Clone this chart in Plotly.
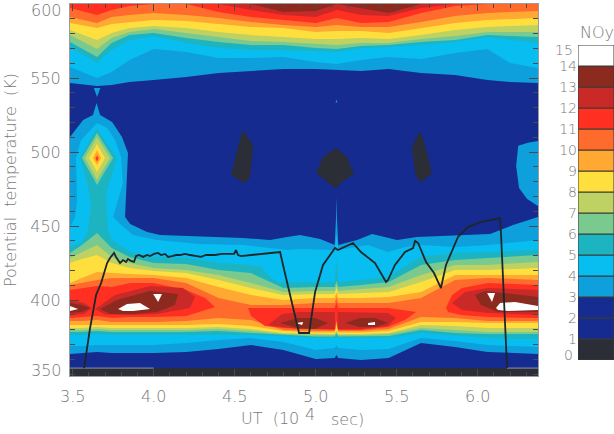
import plotly.graph_objects as go

# NOy contour bands (ppbv) on a UT / potential-temperature section, with flight track.
BAND_COLORS = ["#2b2e36", "#152b8f", "#172c90", "#0ea0dc", "#08bdf0", "#1cb4c0", "#7ac98f",
               "#bdd263", "#ffdf3e", "#ffa932", "#ff6a2d", "#ff3022", "#c92a28", "#8c2a20", "#ffffff"]
TEXT = "#787878"
FONT = "DejaVu Sans Light, DejaVu Sans"

UT_MIN, UT_MAX = 3.483, 6.372
THETA_MIN, THETA_MAX = 348.65, 600.0

# Lower layer: isentrope of each contour, lower and upper edge, at fixed UT stations.
UT_LOW = [3.483, 3.556, 3.65, 3.74, 3.85, 4.0, 4.2, 4.4, 4.6, 4.8, 5.0, 5.117, 5.128, 5.139, 5.28, 5.45, 5.65, 5.86, 6.06, 6.372]
L3_LOW = [363.5, 364.2, 364.9, 364.2, 364.2, 364.2, 364.9, 366.9, 369.6, 366.2, 360.1, 360.8, 362.8, 360.8, 359.5, 360.8, 370.9, 368.2, 364.9, 363.5]
L4_LOW = [368.9, 368.9, 369.6, 369.6, 369.6, 369.6, 370.9, 373, 374.3, 371.6, 366.2, 367.6, 369.6, 367.6, 366.2, 366.9, 374.3, 372.3, 369.6, 368.2]
L5_LOW = [376.4, 376.4, 377, 376.4, 376.4, 376.4, 376.4, 376.4, 376.4, 375.7, 374.3, 374.3, 375.7, 374.3, 374.3, 374.3, 377.7, 375.7, 374.3, 373.6]
L6_LOW = [378.4, 378.4, 379, 378.4, 378.4, 378.4, 378.4, 379, 377.7, 376.4, 375.3, 375.3, 377, 375.3, 375.3, 375.7, 379.7, 377.7, 377, 377]
L7_LOW = [379.7, 379.7, 380.4, 379.7, 379.7, 379.7, 379.7, 380.4, 379, 377, 376.4, 376.4, 378.4, 376.4, 376.4, 377, 381.1, 379.7, 378.4, 378.4]
L8_LOW = [381.1, 381.1, 381.8, 381.1, 381.1, 381.1, 381.1, 381.8, 380.4, 377.7, 377, 377, 379.7, 377, 377, 377.7, 383.1, 382.4, 381.1, 381.1]
L9_LOW = [383.1, 383.1, 383.1, 383.1, 383.1, 383.1, 383.1, 383.8, 382.4, 379, 378, 378, 383.1, 378, 378, 379, 385.1, 385.1, 384.5, 384.5]
L10_LOW = [385.8, 385.8, 386.5, 385.1, 385.1, 385.1, 385.8, 387.8, 386.5, 379.7, 379, 379, 385.1, 379, 379, 380.4, 388.5, 387.8, 385.8, 385.8]
L6_UP = [431.8, 437.2, 445.3, 435.1, 429.1, 425, 424.3, 420.3, 418.2, 408.1, 408.8, 408.8, 412.8, 408.8, 410.1, 412.2, 423.7, 427, 428.4, 430.4]
L7_UP = [428.4, 432.4, 437.2, 429.1, 425, 421.6, 420.3, 416.9, 411.5, 405.4, 406.1, 406.1, 410.1, 406.1, 407.4, 408.8, 416.9, 423.7, 423.7, 425.7]
L8_UP = [425, 427.7, 430.4, 425, 421.6, 419.6, 418.2, 413.5, 408.1, 403.4, 404.1, 404.1, 408.1, 404.1, 404.7, 405.4, 412.2, 420.3, 420.3, 421.6]
L9_UP = [411.5, 414.9, 418.9, 418.2, 417.6, 416.9, 414.9, 408.8, 403.4, 400, 401.4, 401.4, 405.4, 401.4, 401.4, 402, 405.4, 416.9, 416.9, 416.9]
L10_UP = [410.1, 411.5, 413.5, 414.9, 414.9, 414.9, 411.5, 401.4, 396.6, 396.6, 398, 398, 402, 398, 398, 398, 401.4, 413.5, 414.9, 413.5]

# Upper edges of the 3, 4 and 5 ppbv contours, which also wrap the plume near 3.65.
L3_UP_UT = [3.483, 3.564, 3.625, 3.647, 3.669, 3.743, 3.804, 3.841, 3.835, 3.823, 3.854, 3.959, 4.039, 4.286, 4.551, 4.718, 4.823, 4.903, 5.027, 5.117, 5.125, 5.128, 5.131, 5.139, 5.255, 5.348, 5.502, 5.625, 5.934, 6.076, 6.218, 6.372]
L3_UP = [510.1, 521.6, 525, 533.1, 525, 520.3, 510.1, 499.3, 479.1, 456.1, 451.4, 445.9, 443.9, 443.2, 441.9, 440.5, 442.6, 443.9, 441.2, 437.2, 455, 469.6, 455, 437.2, 440.5, 444.6, 440.5, 442.6, 443.9, 444.6, 450.7, 456.1]
L4_UP_UT = [3.483, 3.514, 3.527, 3.52, 3.551, 3.65, 3.712, 3.761, 3.798, 3.81, 3.749, 3.792, 3.872, 4.02, 4.286, 4.551, 4.823, 4.903, 5.117, 5.128, 5.139, 5.323, 5.446, 5.551, 5.65, 5.86, 6.064, 6.372]
L4_UP = [449.3, 456.1, 467.6, 496, 508.1, 519.6, 516.2, 508.1, 496.6, 479.1, 456.1, 451.4, 443.9, 440.5, 437.8, 437.2, 433.8, 434.5, 433.8, 443.9, 433.8, 437.2, 432.4, 435.8, 437.2, 435.8, 437.2, 440.5]
L5_UP_UT = [3.483, 3.557, 3.594, 3.613, 3.594, 3.545, 3.647, 3.773, 3.712, 3.706, 3.718, 3.743, 3.854, 4.0, 4.2, 4.397, 4.6, 4.662, 4.724, 4.767, 5.002, 5.117, 5.128, 5.139, 5.279, 5.446, 5.644, 5.86, 6.064, 6.372]
L5_UP = [435.8, 438.5, 447.3, 464.2, 477, 496, 516.2, 496, 474.3, 464.2, 447.3, 440.5, 432.4, 429.1, 428.4, 425, 423.7, 422.3, 414.9, 412.2, 412.2, 412.2, 428.4, 412.2, 413.5, 415.5, 429.1, 431.8, 432.4, 433.8]

# Upper layer: lower edge of each contour that runs to the top of the section.
UT_TOP = [3.483, 3.65, 3.74, 3.85, 4.0, 4.2, 4.4, 4.6, 4.8, 5.0, 5.13, 5.28, 5.45, 5.65, 5.86, 6.06, 6.2, 6.372]
TOP_3 = [546.6, 544.6, 545.3, 547.3, 548.6, 550.7, 553.4, 554.7, 556.1, 556.1, 555.4, 554.7, 556.1, 553.4, 552, 548.6, 547.3, 546.6]
TOP_4 = [557.4, 550, 554.1, 562.2, 569.6, 567.6, 563.5, 563.5, 564.2, 560.8, 559.5, 562.2, 564.2, 562.8, 566.9, 569.6, 560.1, 556.8]
TOP_5 = [570.9, 560.1, 568.9, 575.7, 578.4, 573.6, 570.3, 568.9, 568.9, 568.2, 567.6, 570.3, 570.9, 572.3, 574.3, 577.7, 575.7, 573.6]
TOP_6 = [574.3, 564.2, 573.6, 579, 580.4, 577, 574.3, 572.3, 572.3, 570.3, 569.6, 571.6, 572.3, 574.3, 575.7, 579, 578.4, 577.7]
TOP_7 = [579, 569.6, 577, 581.1, 583.1, 580.4, 577.7, 575, 574.3, 573, 572.3, 573.6, 573.6, 576.3, 578.4, 581.1, 581.1, 581.1]
TOP_8 = [582.4, 575.7, 580.4, 583.8, 585.1, 583.8, 581.1, 579, 577.7, 576.3, 576.3, 577, 576.3, 579, 582.4, 584.5, 585.1, 585.8]
TOP_9 = [587.2, 583.8, 586.5, 587.8, 589.2, 588.5, 586.5, 584.5, 583.8, 581.1, 581.8, 581.8, 580.4, 583.8, 587.2, 589.2, 589.9, 590.5]
TOP_10 = [591.2, 587.2, 591.2, 592.6, 593.9, 592.6, 590.5, 587.8, 585.8, 584.5, 585.8, 584.5, 584.5, 587.8, 591.9, 593.9, 594.6, 595.3]
TOP_11 = [597.3, 592.6, 596, 598.6, 600, 600, 594.6, 591.2, 589.2, 587.2, 590.5, 587.2, 587.8, 593.9, 598.6, 600, 600, 600]
TOP_12 = [600, 600, 600, 600, 600, 600, 600, 596, 592.6, 591.2, 596, 592.6, 591.9, 597.3, 600, 600, 600, 600]
TOP_13 = [600, 600, 600, 600, 600, 600, 600, 600, 594.6, 595.3, 600, 597.3, 593.9, 600, 600, 600, 600, 600]

# Closed contours, as (UT, theta) vertices: (level, UT list, theta list).
CLOSED = [
    # small light-blue features inside the blue layer
    (3, [3.63, 3.65, 3.67], [543.3, 537.2, 543.3]),
    (3, [5.122, 5.128, 5.134], [533.5, 535.5, 533.5]),
    (3, [6.372, 6.31, 6.25, 6.237, 6.255, 6.305, 6.372], [507.5, 506.2, 504.2, 490.5, 475.7, 468.3, 463.5]),
    # minima between 450 and 550 K
    (0, [4.551, 4.613, 4.594, 4.557, 4.477, 4.52], [514.9, 504.7, 482.4, 479.1, 484.5, 503.4]),
    (0, [5.125, 5.193, 5.236, 5.15, 5.138, 5.119, 5.002, 5.045], [502.7, 496.6, 485.1, 479.1, 476.4, 475.7, 485.8, 496.6]),
    (0, [5.644, 5.669, 5.718, 5.644, 5.613, 5.594], [514.2, 506.8, 485.8, 479.1, 485.8, 503.4]),
    # plume maximum near 3.65
    (6, [3.65, 3.749, 3.65, 3.557], [512.8, 496, 477.7, 496]),
    (7, [3.65, 3.73, 3.65, 3.576], [510.1, 496, 481.1, 496]),
    (8, [3.65, 3.699, 3.65, 3.601], [505.4, 496, 486.5, 496]),
    (9, [3.65, 3.675, 3.65, 3.625], [501.4, 496, 491.2, 496]),
    (10, [3.65, 3.662, 3.65, 3.638], [498, 496, 493.2, 496]),
    (11, [3.65, 3.656, 3.65, 3.644], [497.3, 495.5, 493.9, 495.5]),
    # main NOy layer near 400 K
    (11, [3.483, 3.557, 3.65, 3.743, 3.854, 4.0, 4.2, 4.317, 4.378, 4.2, 4.0, 3.854, 3.743, 3.65, 3.557, 3.483],
     [406.8, 408.1, 409.5, 408.8, 411.5, 411.5, 406.8, 401.4, 395.3, 389.2, 388.5, 388.5, 387.8, 389.2, 388.5, 387.8]),
    (11, [4.582, 4.798, 5.117, 5.128, 5.139, 5.446, 5.551, 5.619, 5.551, 5.446, 5.279, 5.139, 5.128, 5.117, 4.798, 4.687, 4.6],
     [394.6, 394.6, 394.6, 398.6, 394.6, 394.6, 393.2, 391.9, 386.5, 381.8, 379.7, 379.7, 386.5, 379.7, 381.1, 382.4, 389.2]),
    (11, [5.804, 5.841, 5.903, 6.064, 6.372, 6.372, 6.064, 5.897, 5.817],
     [394.6, 403.4, 408.1, 411.5, 410.1, 387.8, 388.5, 389.9, 391.9]),
    (12, [3.483, 3.57, 3.619, 3.57, 3.483], [400, 398, 394.6, 390.5, 389.9]),
    (12, [3.638, 3.761, 3.977, 4.181, 4.255, 4.224, 4.02, 3.872, 3.699],
     [393.9, 403.4, 409.5, 408.1, 402, 394.6, 390.5, 389.9, 390.2]),
    (12, [4.706, 4.792, 4.903, 5.117, 5.12, 4.903, 4.798], [383.1, 390.5, 391.9, 391.9, 380.4, 380.4, 381.8]),
    (12, [5.136, 5.446, 5.495, 5.446, 5.279, 5.136], [391.9, 391.2, 387.8, 382.4, 380.4, 380.4]),
    (12, [5.841, 5.921, 6.064, 6.372, 6.372, 6.064, 5.903], [398, 405.4, 408.1, 406.8, 389.9, 391.2, 393.2]),
    (13, [3.483, 3.557, 3.607, 3.557, 3.483], [398, 396.6, 394.6, 391.9, 391.2]),
    (13, [3.669, 3.773, 3.977, 4.15, 4.131, 4.02, 3.872, 3.73], [393.9, 400, 406.1, 404.1, 396.6, 391.9, 390.5, 390.5]),
    (13, [4.78, 4.891, 4.996, 5.076, 4.996, 4.891], [384.5, 387.8, 387.8, 384.5, 380.4, 381.1]),
    (13, [5.181, 5.273, 5.366, 5.446, 5.366, 5.273], [384.5, 387.8, 387.8, 384.5, 381.8, 381.8]),
    (13, [5.983, 6.045, 6.372, 6.372, 6.125, 6.02], [403.4, 406.1, 402, 391.9, 391.9, 396.6]),
    (14, [3.483, 3.533, 3.483], [395.9, 393.9, 392.6]),
    (14, [3.78, 3.835, 3.915, 3.977, 3.872, 3.81], [393.9, 397.3, 398, 393.9, 392.6, 392.6]),
    (14, [3.996, 4.051, 4.027], [404.1, 404.1, 398.6]),
    (14, [4.878, 4.922, 4.916], [384.5, 385.1, 383.1]),
    (14, [5.323, 5.366, 5.366, 5.323], [384.5, 385.1, 383.1, 383.1]),
    (14, [6.058, 6.107, 6.088], [404.7, 404.7, 398.6]),
    (14, [6.113, 6.138, 6.23, 6.372, 6.372, 6.187, 6.125], [394.6, 398, 398.6, 395.9, 393.2, 392.6, 393.2]),
]

# Aircraft track in UT (10^4 s) and potential temperature (K).
TRACK_UT = [3.57, 3.607, 3.644, 3.675, 3.712, 3.73, 3.755, 3.767, 3.792, 3.81, 3.829, 3.841, 3.86, 3.878, 3.891, 3.909, 3.934, 3.959, 3.977, 4.002, 4.027, 4.045, 4.07, 4.088, 4.113, 4.138, 4.162, 4.193, 4.224, 4.261, 4.292, 4.323, 4.378, 4.422, 4.459, 4.496, 4.508, 4.52, 4.539, 4.594, 4.662, 4.718, 4.78, 4.798, 4.841, 4.897, 4.959, 4.996, 5.045, 5.119, 5.137, 5.23, 5.279, 5.366, 5.434, 5.446, 5.489, 5.551, 5.601, 5.613, 5.632, 5.681, 5.73, 5.773, 5.804, 5.878, 5.94, 6.02, 6.137, 6.144, 6.181]
TRACK_THETA = [354, 381.1, 403.4, 411.5, 425, 428.4, 431.8, 429.1, 425, 427, 425.7, 427.7, 426.4, 425.7, 429.7, 430.4, 429.1, 430.4, 429.7, 431.1, 431.8, 430.4, 431.1, 429.1, 429.7, 430.4, 430.4, 431.1, 430.4, 429.7, 429.1, 430.4, 430.4, 431.1, 431.1, 431.1, 433.8, 430.4, 429.7, 430.4, 431.1, 431.8, 432.4, 423.7, 403.4, 377.7, 377.7, 405.4, 423.7, 435.1, 433.8, 438.5, 432.4, 425, 412.2, 413.5, 423.7, 432.4, 435.1, 439.9, 438.5, 425.7, 418.2, 408.1, 423.7, 442.6, 449.3, 452.7, 455.4, 443.9, 354]

# Faint trace of the 1 ppbv contour along the bottom of the section.
BASE_EDGE_UT = [3.483, 4.0, None, 6.18, 6.372]
BASE_EDGE_THETA = [354, 354, None, 354, 354]

Y_TICKS = [400, 450, 500, 550]
Y_LABELS = ["400", "450", "500", "550"]
X_TICKS = [3.5, 4.0, 4.5, 5.0, 5.5, 6.0]
X_LABELS = ["3.5", "4.0", "4.5", "5.0", "5.5", "6.0"]
BAR_LEVELS = list(range(15))
BAR_TICKS = list(range(1, 15))
BAR_HEIGHT = [1] * 15

fig = go.Figure()


def region(level, xs, ys):
    fig.add_trace(go.Scatter(x=xs, y=ys, mode="lines", fill="toself", fillcolor=BAND_COLORS[level],
                             line=dict(width=0), hoverinfo="skip", showlegend=False))


def layer(level, low_x, low, up_x, up):
    region(level, low_x + up_x[::-1], low + up[::-1])


def to_top(level, edge):
    region(level, UT_TOP + [UT_MAX, UT_MIN], edge + [THETA_MAX, THETA_MAX])


# Background layer and the band below the lowest contour.
region(1, [UT_MIN, UT_MAX, UT_MAX, UT_MIN], [THETA_MIN, THETA_MIN, THETA_MAX, THETA_MAX])
region(0, [UT_MIN, UT_MAX, UT_MAX, UT_MIN], [THETA_MIN, THETA_MIN, 354, 354])
fig.add_trace(go.Scatter(x=BASE_EDGE_UT, y=BASE_EDGE_THETA, mode="lines", line=dict(color="#8f93a8", width=1),
                         hoverinfo="skip", showlegend=False))

# Contours are painted from low to high so each nests inside the previous one.
layer(3, UT_LOW, L3_LOW, L3_UP_UT, L3_UP)
layer(4, UT_LOW, L4_LOW, L4_UP_UT, L4_UP)
layer(5, UT_LOW, L5_LOW, L5_UP_UT, L5_UP)
layer(6, UT_LOW, L6_LOW, UT_LOW, L6_UP)
layer(7, UT_LOW, L7_LOW, UT_LOW, L7_UP)
layer(8, UT_LOW, L8_LOW, UT_LOW, L8_UP)
layer(9, UT_LOW, L9_LOW, UT_LOW, L9_UP)
layer(10, UT_LOW, L10_LOW, UT_LOW, L10_UP)

for lvl, edge in zip(range(3, 14), [TOP_3, TOP_4, TOP_5, TOP_6, TOP_7, TOP_8, TOP_9, TOP_10, TOP_11, TOP_12, TOP_13]):
    to_top(lvl, edge)

for lvl, xs, ys in CLOSED:
    region(lvl, xs, ys)

fig.add_trace(go.Scatter(x=TRACK_UT, y=TRACK_THETA, mode="lines", line=dict(color="#1d2729", width=1.8),
                         hoverinfo="skip", showlegend=False))

# Colour key.
fig.add_trace(go.Bar(x=[0] * 15, y=BAR_HEIGHT, base=BAR_LEVELS, width=1, xaxis="x2", yaxis="y2",
                     marker=dict(color=BAND_COLORS, line=dict(color="#3a3a35", width=1)),
                     hoverinfo="skip", showlegend=False))

W, H = 614, 434
tick_font = dict(family=FONT, size=16, color=TEXT)
key_font = dict(family=FONT, size=14, color=TEXT)
TICKS = "#4a4a4a"
FRAME = "#9c9c9c"

fig.update_layout(
    width=W, height=H, margin=dict(l=0, r=0, t=0, b=0, autoexpand=False), paper_bgcolor="white", plot_bgcolor="white",
    showlegend=False, barmode="overlay",
    xaxis=dict(domain=[70 / W, 538 / W], range=[UT_MIN, UT_MAX], tickmode="array", tickvals=X_TICKS, ticktext=X_LABELS,
               ticks="inside", ticklen=7, tickcolor=TICKS, tickwidth=1, mirror="ticks", showline=True, linecolor=FRAME,
               showgrid=False, zeroline=False, tickfont=tick_font, ticklabelstandoff=6, automargin=False,
               minor=dict(tick0=3.5, dtick=0.1, ticks="inside", ticklen=4, tickcolor=TICKS, showgrid=False)),
    yaxis=dict(domain=[(H - 376) / H, (H - 4) / H], range=[THETA_MIN, THETA_MAX], tickmode="array", tickvals=Y_TICKS, ticktext=Y_LABELS,
               ticks="inside", ticklen=9, tickcolor=TICKS, tickwidth=1, mirror="ticks", showline=True, linecolor=FRAME,
               showgrid=False, zeroline=False, tickfont=tick_font, ticklabelstandoff=5, automargin=False,
               minor=dict(tick0=350, dtick=10, ticks="inside", ticklen=5, tickcolor=TICKS, showgrid=False)),
    xaxis2=dict(domain=[578 / W, 1], range=[-0.5, 0.5], anchor="y2", showticklabels=False, ticks="", showgrid=False,
                zeroline=False, showline=False, automargin=False),
    yaxis2=dict(domain=[(H - 360) / H, (H - 45) / H], range=[0, 15], anchor="x2", tickmode="array", tickvals=BAR_TICKS,
                ticktext=[str(v) for v in BAR_TICKS], ticks="", showgrid=False, zeroline=False, showline=False,
                tickfont=key_font, automargin=False),
)

fig.add_annotation(xref="paper", x=64 / W, yref="y", y=600, yshift=-7, text="600", showarrow=False, xanchor="right", font=tick_font)
fig.add_annotation(xref="paper", x=64 / W, yref="y", y=350, yshift=4, text="350", showarrow=False, xanchor="right", font=tick_font)
fig.add_annotation(xref="paper", x=575 / W, yref="y2", y=15, yshift=-5, text="15", showarrow=False, xanchor="right", font=key_font)
fig.add_annotation(xref="paper", x=575 / W, yref="y2", y=0, yshift=5, text="0", showarrow=False, xanchor="right", font=key_font)
fig.add_annotation(xref="paper", x=597 / W, yref="y2", y=15, yshift=13, text="NOy", showarrow=False, xanchor="center",
                   font=dict(family=FONT, size=16, color=TEXT))
fig.add_annotation(xref="paper", x=10 / W, yref="paper", y=(H - 180) / H, text="Potential  temperature  (K)", textangle=-90,
                   showarrow=False, xanchor="center", yanchor="middle", font=tick_font)
# Axis title is set in three pieces so the exponent keeps the full text size.
fig.add_annotation(xref="paper", x=301 / W, yref="paper", y=(H - 418) / H, text="UT  (10", showarrow=False, xanchor="right", yanchor="middle", font=tick_font)
fig.add_annotation(xref="paper", x=310 / W, yref="paper", y=(H - 414) / H, text="4", showarrow=False, xanchor="center", yanchor="middle", font=tick_font)
fig.add_annotation(xref="paper", x=329 / W, yref="paper", y=(H - 419) / H, text="sec)", showarrow=False, xanchor="left", yanchor="middle", font=tick_font)

fig.write_html("out.html")
